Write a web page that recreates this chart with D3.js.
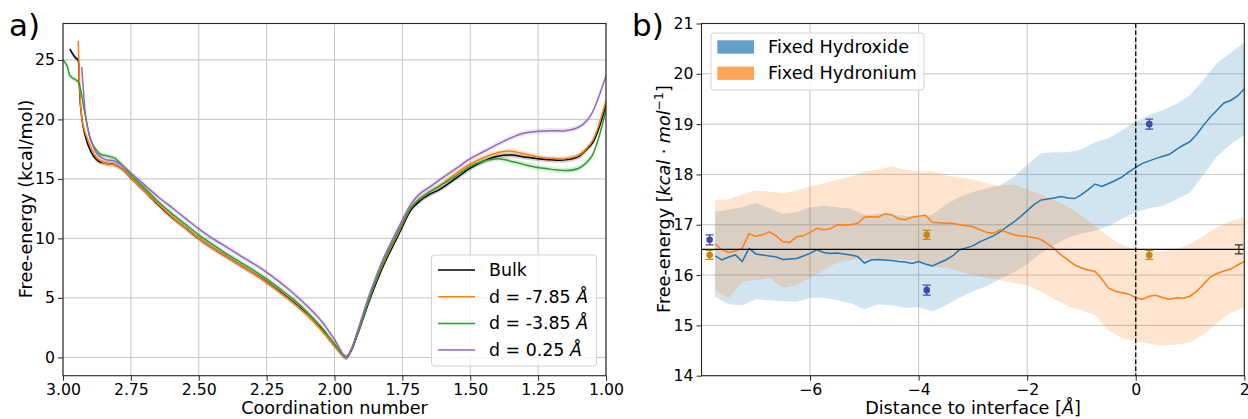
<!DOCTYPE html>
<html>
<head>
<meta charset="utf-8">
<script src="https://cdn.jsdelivr.net/npm/d3@7"></script>
<style>
  html, body { margin: 0; padding: 0; background: #fff; }
  svg { display: block; font-family: "DejaVu Sans", sans-serif; }
</style>
</head>
<body>
<svg id="fig" width="1248" height="419"></svg>
<script>
// ---------- Panel a: free-energy profiles vs coordination number ----------
const bulkProfile = [
  [2.975,25.9],[2.955,25.2],[2.945,25.0],[2.940,23.0],[2.935,21.0],[2.925,19.3],[2.91,18.0],
  [2.89,17.0],[2.87,16.5],[2.84,16.3],[2.81,16.2],[2.78,15.8],[2.75,15.1],[2.70,14.0],
  [2.65,12.85],[2.60,11.8],[2.55,10.9],[2.50,10.0],[2.45,9.2],[2.40,8.5],[2.35,7.8],
  [2.30,7.1],[2.25,6.35],[2.20,5.5],[2.15,4.6],[2.10,3.6],[2.05,2.4],[2.00,1.0],[1.957,0.0],
  [1.94,0.5],[1.914,2.0],[1.871,4.8],[1.822,7.6],[1.76,10.5],[1.718,12.4],[1.688,13.1],
  [1.65,13.7],[1.614,14.1],[1.55,15.1],[1.50,15.9],[1.45,16.5],[1.40,16.9],[1.35,17.0],
  [1.30,16.85],[1.25,16.7],[1.20,16.6],[1.15,16.6],[1.10,16.9],[1.07,17.5],[1.05,18.0],
  [1.03,19.0],[1.00,21.2]
];
const dm785Profile = [
  [2.944,26.6],[2.940,24.0],[2.936,21.5],[2.93,20.0],[2.92,19.0],[2.90,17.8],[2.88,16.9],
  [2.86,16.5],[2.84,16.3],[2.81,16.2],[2.78,15.8],[2.75,15.1],[2.70,14.0],[2.65,12.9],
  [2.60,11.85],[2.55,10.9],[2.50,10.0],[2.45,9.2],[2.40,8.5],[2.35,7.8],[2.30,7.1],
  [2.25,6.3],[2.20,5.45],[2.15,4.55],[2.10,3.55],[2.05,2.35],[2.00,1.0],[1.957,0.0],
  [1.94,0.55],[1.914,2.1],[1.871,5.0],[1.822,7.8],[1.76,10.7],[1.718,12.6],[1.688,13.3],
  [1.65,13.9],[1.614,14.4],[1.55,15.5],[1.50,16.25],[1.45,16.8],[1.40,17.2],[1.36,17.35],
  [1.30,17.1],[1.25,16.85],[1.20,16.72],[1.15,16.7],[1.10,17.0],[1.07,17.6],[1.05,18.2],
  [1.03,19.3],[1.00,21.6]
];
const dm385Profile = [
  [3.00,25.0],[2.985,24.5],[2.975,23.7],[2.96,23.4],[2.945,23.2],[2.935,22.5],[2.925,21.2],
  [2.91,19.4],[2.90,18.4],[2.88,17.5],[2.86,17.05],[2.84,16.95],[2.81,16.75],[2.78,16.1],
  [2.75,15.35],[2.70,14.25],[2.65,13.1],[2.60,12.1],[2.55,11.2],[2.50,10.3],[2.45,9.5],
  [2.40,8.75],[2.35,8.05],[2.30,7.35],[2.25,6.6],[2.20,5.75],[2.15,4.85],[2.10,3.8],
  [2.05,2.6],[2.00,1.15],[1.957,0.0],[1.94,0.55],[1.914,2.1],[1.871,5.0],[1.822,7.9],
  [1.76,10.8],[1.718,12.6],[1.688,13.3],[1.65,13.9],[1.614,14.4],[1.55,15.3],[1.50,16.05],
  [1.45,16.5],[1.40,16.7],[1.37,16.6],[1.30,16.2],[1.25,15.95],[1.20,15.8],[1.15,15.7],
  [1.10,15.9],[1.07,16.4],[1.05,17.0],[1.03,18.2],[1.00,20.8]
];
const d025Profile = [
  [2.931,24.4],[2.925,22.5],[2.919,20.8],[2.91,19.4],[2.895,18.1],[2.88,17.3],[2.86,16.8],
  [2.84,16.6],[2.81,16.5],[2.78,16.1],[2.75,15.5],[2.70,14.5],[2.65,13.5],[2.60,12.6],
  [2.55,11.7],[2.50,10.8],[2.45,10.0],[2.40,9.3],[2.35,8.6],[2.30,7.9],[2.25,7.15],
  [2.20,6.3],[2.15,5.35],[2.10,4.3],[2.05,3.1],[2.00,1.5],[1.957,0.0],[1.94,0.6],
  [1.914,2.3],[1.871,5.3],[1.822,8.2],[1.76,11.1],[1.718,12.9],[1.688,13.7],[1.65,14.3],
  [1.614,14.9],[1.55,15.9],[1.50,16.7],[1.45,17.3],[1.40,17.9],[1.35,18.45],[1.30,18.85],
  [1.25,19.0],[1.20,19.05],[1.15,19.05],[1.10,19.35],[1.07,19.9],[1.05,20.6],[1.03,21.7],
  [1.00,23.65]
];
const profileNames = ["Bulk", "d = -7.85 ", "d = -3.85 ", "d = 0.25 "];
const profileColors = ["#000000", "#ff7f0e", "#2ca02c", "#9467bd"];
const xTicksA = [3.00, 2.75, 2.50, 2.25, 2.00, 1.75, 1.50, 1.25, 1.00];
const yTicksA = [0, 5, 10, 15, 20, 25];

// ---------- Panel b: free energy vs distance to the interface ----------
const distFine = [-7.75,-7.625,-7.5,-7.375,-7.25,-7.125,-7.0,-6.875,-6.75,-6.625,-6.5,-6.375,
  -6.25,-6.125,-6.0,-5.875,-5.75,-5.625,-5.5,-5.375,-5.25,-5.125,-5.0,-4.875,-4.75,-4.625,
  -4.5,-4.375,-4.25,-4.125,-4.0,-3.875,-3.75,-3.625,-3.5,-3.375,-3.25,-3.125,-3.0,-2.875,
  -2.75,-2.625,-2.5,-2.375,-2.25,-2.125,-2.0,-1.875,-1.75,-1.625,-1.5,-1.375,-1.25,-1.125,
  -1.0,-0.875,-0.75,-0.625,-0.5,-0.375,-0.25,-0.125,0.0,0.125,0.25,0.375,0.5,0.625,0.75,
  0.875,1.0,1.125,1.25,1.375,1.5,1.625,1.75,1.875,2.0];
const hydroxideMean = [16.38,16.30,16.36,16.40,16.27,16.53,16.42,16.40,16.38,16.36,16.31,16.32,
  16.33,16.38,16.43,16.50,16.45,16.43,16.44,16.42,16.40,16.37,16.24,16.30,16.31,16.30,
  16.29,16.27,16.26,16.23,16.27,16.22,16.18,16.24,16.30,16.38,16.50,16.54,16.58,16.66,
  16.72,16.78,16.86,16.96,17.05,17.16,17.28,17.40,17.49,17.51,17.53,17.56,17.53,17.52,
  17.60,17.70,17.81,17.76,17.82,17.88,17.95,18.05,18.14,18.22,18.27,18.32,18.36,18.40,18.50,
  18.58,18.65,18.80,18.98,19.14,19.28,19.42,19.47,19.56,19.70];
const hydroniumMean = [16.62,16.50,16.45,16.48,16.53,16.82,16.77,16.80,16.86,16.78,16.66,16.65,
  16.76,16.78,16.85,16.93,16.90,16.92,17.00,16.99,17.00,17.03,17.15,17.16,17.15,17.22,
  17.20,17.12,17.10,17.15,17.17,17.19,17.05,17.04,17.03,17.03,17.00,16.98,16.96,16.90,
  16.85,16.83,16.90,16.85,16.80,16.78,16.77,16.74,16.71,16.62,16.52,16.40,16.30,16.20,
  16.14,16.10,16.07,15.92,15.74,15.68,15.65,15.62,15.55,15.52,15.58,15.60,15.55,15.52,15.55,
  15.54,15.58,15.68,15.82,15.96,16.03,16.08,16.12,16.20,16.27];

const distCoarse = [-7.75,-7.5,-7.25,-7.0,-6.75,-6.5,-6.25,-6.0,-5.75,-5.5,-5.25,-5.0,-4.75,
  -4.5,-4.25,-4.0,-3.75,-3.5,-3.25,-3.0,-2.75,-2.5,-2.25,-2.0,-1.75,-1.5,-1.25,-1.0,-0.75,
  -0.5,-0.25,0.0,0.25,0.5,0.75,1.0,1.25,1.5,1.75,2.0];
const hydroxideUpper = [17.26,17.30,17.35,17.43,17.33,17.22,17.25,17.35,17.38,17.35,17.32,17.20,
  17.22,17.20,17.18,17.15,17.20,17.40,17.55,17.65,17.72,17.78,17.95,18.19,18.42,18.44,18.44,
  18.50,18.64,18.72,18.88,19.05,19.18,19.28,19.40,19.58,19.88,20.22,20.42,20.62];
const hydroxideLower = [15.57,15.42,15.40,15.52,15.50,15.48,15.47,15.55,15.55,15.50,15.44,15.32,
  15.42,15.40,15.35,15.36,15.28,15.40,15.55,15.68,15.78,15.92,16.05,16.22,16.43,16.60,16.74,
  16.82,16.88,16.98,17.12,17.25,17.33,17.38,17.50,17.64,18.00,18.36,18.60,18.78];
const hydroniumUpper = [17.49,17.50,17.60,17.68,17.66,17.62,17.68,17.76,17.82,17.90,17.95,18.06,
  18.10,18.16,18.10,18.06,18.06,17.98,17.94,17.90,17.82,17.77,17.80,17.70,17.60,17.48,17.36,
  17.18,16.98,16.76,16.60,16.50,16.48,16.47,16.52,16.62,16.78,16.95,17.07,17.16];
const hydroniumLower = [15.70,15.55,15.86,15.90,15.94,15.75,15.80,15.95,16.10,16.25,16.30,16.33,
  16.30,16.32,16.30,16.28,16.17,16.15,16.08,16.00,15.95,15.90,15.84,15.80,15.68,15.52,15.38,
  15.30,15.20,14.90,14.75,14.68,14.64,14.60,14.62,14.66,14.82,15.05,15.25,15.37];

// Reference estimates with error bars
const pointDist = [-7.85, -3.85, 0.25];
const hydroxidePoints = [16.7, 15.7, 19.0];
const hydroxideErr = [0.1, 0.1, 0.1];
const hydroniumPoints = [16.4, 16.8, 16.4];
const hydroniumErr = [0.09, 0.09, 0.09];
const bulkLevel = 16.51;
const bulkErr = 0.09;
const bulkErrDist = 1.9;
const seriesNamesB = ["Fixed Hydroxide", "Fixed Hydronium"];
const xTicksB = [-6, -4, -2, 0, 2];
const yTicksB = [14, 15, 16, 17, 18, 19, 20, 21];

// ---------- drawing ----------
const svg = d3.select("#fig");
svg.append("rect").attr("width", 1248).attr("height", 419).attr("fill", "#fff");
const TICK_FS = 15.7;
const LABEL_FS = 17.6;
const gridCol = "#c4c4c4";
const spineCol = "#262626";

function frame(g, x, y, xTicks, yTicks) {
  const [x0, x1] = x.range(), [y0, y1] = y.range();
  g.append("g").selectAll("line").data(xTicks).join("line")
    .attr("x1", d => x(d)).attr("x2", d => x(d)).attr("y1", y1).attr("y2", y0)
    .attr("stroke", gridCol).attr("stroke-width", 1);
  g.append("g").selectAll("line").data(yTicks).join("line")
    .attr("x1", x0).attr("x2", x1).attr("y1", d => y(d)).attr("y2", d => y(d))
    .attr("stroke", gridCol).attr("stroke-width", 1);
}
function axes(g, x, y, xTicks, yTicks, xFmt, yFmt) {
  const [x0, x1] = x.range(), [y0, y1] = y.range();
  const ax = g.append("g").attr("transform", `translate(0,${y0})`)
    .call(d3.axisBottom(x).tickValues(xTicks).tickFormat(xFmt).tickSize(5).tickPadding(3));
  const ay = g.append("g").attr("transform", `translate(${x0},0)`)
    .call(d3.axisLeft(y).tickValues(yTicks).tickFormat(yFmt).tickSize(5).tickPadding(3));
  [ax, ay].forEach(a => {
    a.select(".domain").remove();
    a.selectAll("text").attr("font-size", TICK_FS).attr("font-family", "DejaVu Sans").attr("fill", "#000");
    a.selectAll("line").attr("stroke", spineCol);
  });
  g.append("rect").attr("x", x0).attr("y", y1).attr("width", x1 - x0).attr("height", y0 - y1)
    .attr("fill", "none").attr("stroke", spineCol).attr("stroke-width", 1.1);
}

// Panel a
const xa = d3.scaleLinear().domain([3.0, 1.0]).range([63, 606]);
const ya = d3.scaleLinear().domain([-1.54, 28.06]).range([375.7, 23.5]);
const ga = svg.append("g");
frame(ga, xa, ya, xTicksA, yTicksA);
const profiles = [bulkProfile, dm785Profile, dm385Profile, d025Profile];
const lineA = d3.line().x(d => xa(d[0])).y(d => ya(d[1])).curve(d3.curveCatmullRom.alpha(0.5));
const haloA = d3.area().x(d => xa(d[0])).y0(d => ya(d[1] - 0.22)).y1(d => ya(d[1] + 0.22))
  .curve(d3.curveCatmullRom.alpha(0.5));
ga.append("clipPath").attr("id", "clipA").append("rect")
  .attr("x", 63).attr("y", 23.5).attr("width", 543).attr("height", 352.2);
const plotA = ga.append("g").attr("clip-path", "url(#clipA)");
profiles.forEach((p, i) => {
  plotA.append("path").attr("d", haloA(p)).attr("fill", profileColors[i]).attr("opacity", 0.18);
});
profiles.forEach((p, i) => {
  plotA.append("path").attr("d", lineA(p)).attr("fill", "none")
    .attr("stroke", profileColors[i]).attr("stroke-width", 1.5);
});
axes(ga, xa, ya, xTicksA, yTicksA, d3.format(".2f"), d3.format("d"));
ga.append("text").attr("x", 334.5).attr("y", 413.5).attr("text-anchor", "middle")
  .attr("font-size", LABEL_FS).text("Coordination number");
ga.append("text").attr("transform", "translate(32,199) rotate(-90)").attr("text-anchor", "middle")
  .attr("font-size", LABEL_FS).text("Free-energy (kcal/mol)");
ga.append("text").attr("x", 9).attr("y", 36).attr("font-size", 31).text("a)");
// legend
const legA = ga.append("g");
legA.append("rect").attr("x", 431.5).attr("y", 255).attr("width", 165).attr("height", 111)
  .attr("rx", 3).attr("fill", "#fff").attr("fill-opacity", 0.8).attr("stroke", "#d0d0d0");
profileNames.forEach((name, i) => {
  const yy = 270 + i * 26.7;
  legA.append("line").attr("x1", 438).attr("x2", 475).attr("y1", yy).attr("y2", yy)
    .attr("stroke", profileColors[i]).attr("stroke-width", 1.5);
  const t = legA.append("text").attr("x", 489).attr("y", yy + 6).attr("font-size", 17.4);
  t.append("tspan").text(name);
  if (i > 0) t.append("tspan").attr("font-style", "italic").text("Å");
});

// Panel b
const xb = d3.scaleLinear().domain([-8, 2]).range([701.5, 1244.3]);
const yb = d3.scaleLinear().domain([14, 21]).range([375.7, 23.5]);
const gb = svg.append("g");
frame(gb, xb, yb, xTicksB, yTicksB);
gb.append("clipPath").attr("id", "clipB").append("rect")
  .attr("x", 701.5).attr("y", 23.5).attr("width", 542.8).attr("height", 352.2);
const plotB = gb.append("g").attr("clip-path", "url(#clipB)");
const bandB = (lo, hi) => d3.area().x((d, i) => xb(distCoarse[i]))
  .y0((d, i) => yb(lo[i])).y1((d, i) => yb(hi[i]))(distCoarse);
plotB.append("path").attr("d", bandB(hydroxideLower, hydroxideUpper))
  .attr("fill", "#1f77b4").attr("fill-opacity", 0.2);
plotB.append("path").attr("d", bandB(hydroniumLower, hydroniumUpper))
  .attr("fill", "#ff7f0e").attr("fill-opacity", 0.2);
const lineB = vals => d3.line().x((d, i) => xb(distFine[i])).y((d, i) => yb(vals[i]))(distFine);
plotB.append("path").attr("d", lineB(hydroxideMean)).attr("fill", "none")
  .attr("stroke", "#1f77b4").attr("stroke-width", 1.5);
plotB.append("path").attr("d", lineB(hydroniumMean)).attr("fill", "none")
  .attr("stroke", "#ff7f0e").attr("stroke-width", 1.5);
// bulk reference level
plotB.append("line").attr("x1", xb(-8)).attr("x2", xb(2)).attr("y1", yb(bulkLevel)).attr("y2", yb(bulkLevel))
  .attr("stroke", "#000").attr("stroke-width", 1.3);
// interface position
plotB.append("line").attr("x1", xb(0)).attr("x2", xb(0)).attr("y1", yb(21)).attr("y2", yb(14))
  .attr("stroke", "#000").attr("stroke-width", 1.3).attr("stroke-dasharray", "4.5,2.5");
function errPoint(g, x, y, e, col, dot) {
  const cx = xb(x);
  g.append("line").attr("x1", cx).attr("x2", cx).attr("y1", yb(y - e)).attr("y2", yb(y + e))
    .attr("stroke", col).attr("stroke-width", 1.3);
  [y - e, y + e].forEach(v => g.append("line").attr("x1", cx - 4).attr("x2", cx + 4)
    .attr("y1", yb(v)).attr("y2", yb(v)).attr("stroke", col).attr("stroke-width", 1.3));
  if (dot) g.append("circle").attr("cx", cx).attr("cy", yb(y)).attr("r", 3.3).attr("fill", col);
}
pointDist.forEach((x, i) => errPoint(plotB, x, hydroxidePoints[i], hydroxideErr[i], "#3c4cb4", true));
pointDist.forEach((x, i) => errPoint(plotB, x, hydroniumPoints[i], hydroniumErr[i], "#c5870f", true));
errPoint(plotB, bulkErrDist, bulkLevel, bulkErr, "#333", false);
axes(gb, xb, yb, xTicksB, yTicksB, d3.format("d"), d3.format("d"));
const xlb = gb.append("text").attr("x", 973).attr("y", 413.5).attr("text-anchor", "middle").attr("font-size", LABEL_FS);
xlb.append("tspan").text("Distance to interface [");
xlb.append("tspan").attr("font-style", "italic").text("Å");
xlb.append("tspan").text("]");
const ylb = gb.append("text").attr("transform", "translate(670,199) rotate(-90)")
  .attr("text-anchor", "middle").attr("font-size", LABEL_FS);
ylb.append("tspan").text("Free-energy [");
ylb.append("tspan").attr("font-style", "italic").text("kcal");
ylb.append("tspan").text(" · ");
ylb.append("tspan").attr("font-style", "italic").text("mol");
ylb.append("tspan").attr("font-size", 12.5).attr("dy", -7).text("−1");
ylb.append("tspan").attr("dy", 7).text("]");
gb.append("text").attr("x", 632).attr("y", 36).attr("font-size", 31).text("b)");
// legend
const legB = gb.append("g");
legB.append("rect").attr("x", 711).attr("y", 33).attr("width", 213).attr("height", 57)
  .attr("rx", 3).attr("fill", "#fff").attr("fill-opacity", 0.8).attr("stroke", "#d0d0d0");
["#1f77b4", "#ff7f0e"].forEach((c, i) => {
  legB.append("rect").attr("x", 717.3).attr("y", 40.3 + i * 26.3).attr("width", 36.7).attr("height", 13.3)
    .attr("fill", c).attr("fill-opacity", 0.7);
  legB.append("text").attr("x", 768).attr("y", 53 + i * 26.3).attr("font-size", 17.7).text(seriesNamesB[i]);
});
</script>
</body>
</html>
